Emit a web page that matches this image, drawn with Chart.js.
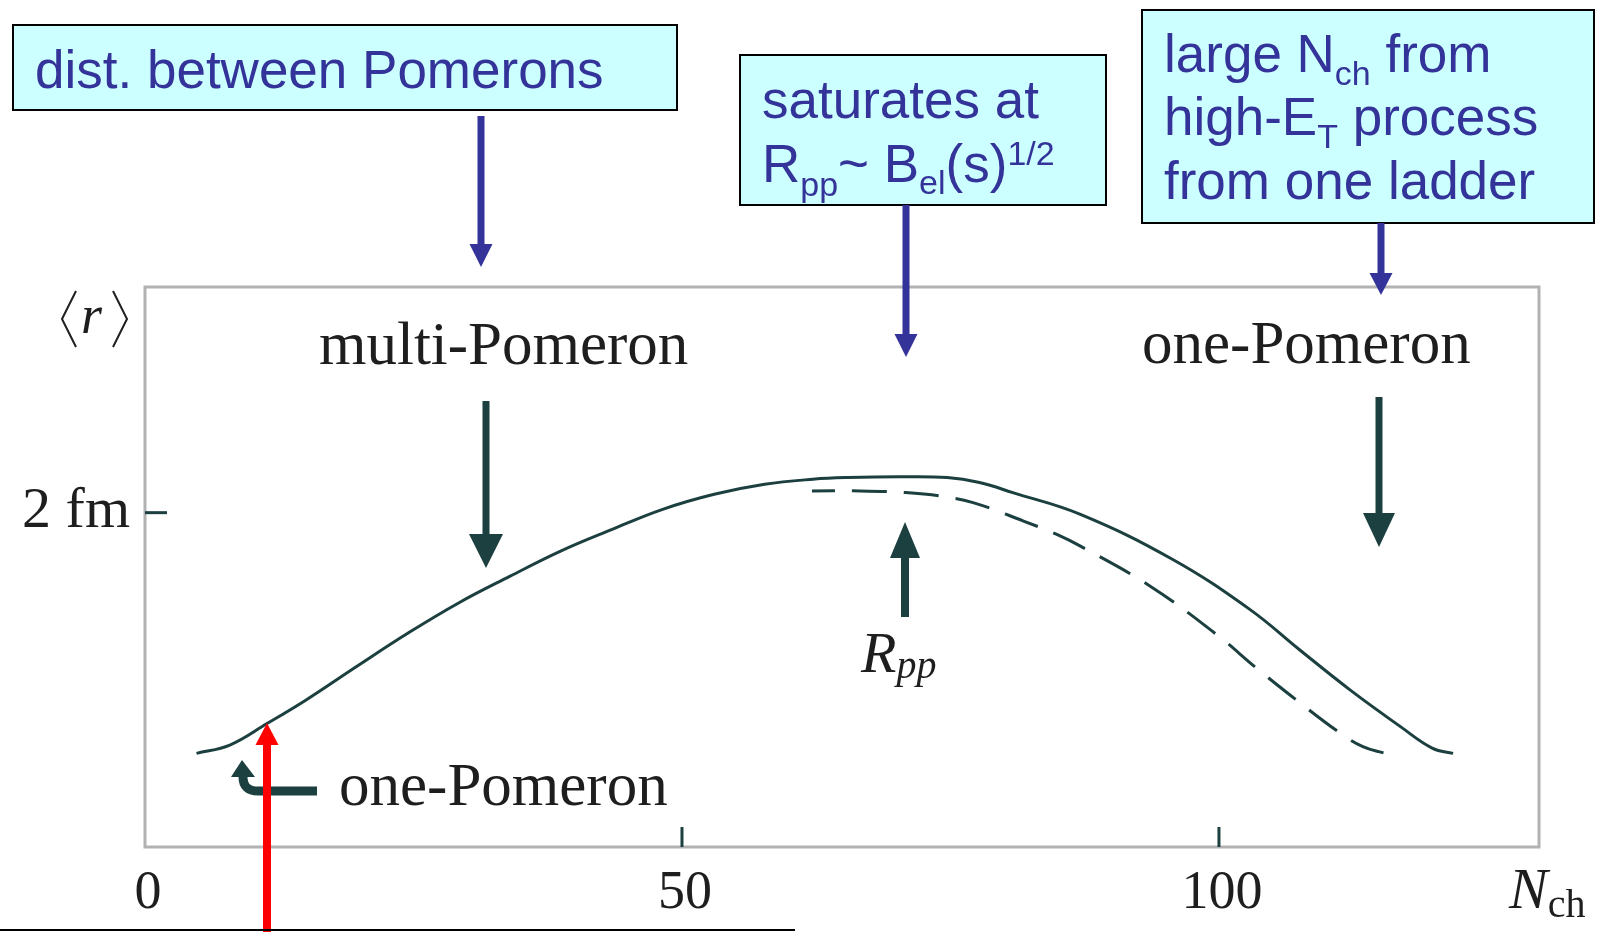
<!DOCTYPE html>
<html>
<head>
<meta charset="utf-8">
<title>&lt;r&gt; vs Nch</title>
<script src="https://cdn.jsdelivr.net/npm/chart.js@4.4.0/dist/chart.umd.min.js"></script>
<style>
	html, body { margin: 0; padding: 0; background: #ffffff; }
	#grafica { display: block; }
</style>
</head>
<body>
<canvas id="grafica" width="1603" height="932"></canvas>
<script>
// solid curve: <r> in fm against N_ch
var nchSolid = [4.8, 7.9, 11.4, 15.0, 19.7, 24.5, 29.2, 34.0, 38.7, 43.5, 48.2, 53.0, 57.7, 62.2, 65.4, 70.3, 74.7, 77.7, 80.8, 87.1, 95.7, 102.9, 107.5, 112.2, 116.9, 119.9, 121.8];
var rSolid   = [0.56, 0.61, 0.74, 0.88, 1.08, 1.28, 1.46, 1.62, 1.77, 1.90, 2.02, 2.11, 2.17, 2.20, 2.21, 2.215, 2.21, 2.18, 2.12, 1.99, 1.72, 1.42, 1.18, 0.94, 0.72, 0.59, 0.56];

// dashed curve (saturating at R_pp)
var nchDashed = [62.1, 66.6, 70.8, 74.0, 77.1, 81.8, 84.9, 87.1, 93.6, 99.8, 103.5, 107.2, 111.1, 113.4, 115.5];
var rDashed   = [2.13, 2.13, 2.12, 2.10, 2.06, 1.95, 1.87, 1.80, 1.56, 1.27, 1.07, 0.88, 0.69, 0.60, 0.56];

var xTicks = [0, 50, 100];
var xTickLabels = ["0", "50", "100"];
var yTicks = [2];
var yTickLabels = ["2 fm"];

var TEAL = "#1c3f3f";
var INK = "#1e1e1e";
var BLUE = "#333399";
var SANS = "'Liberation Sans', Arial, sans-serif";
var SERIF = "'Liberation Serif', 'Times New Roman', serif";

function toPoints(xs, ys)
{
	var pts = [];
	for (var i = 0; i < xs.length; i++)
		pts.push({ x: xs[i], y: ys[i] });
	return pts;
}

function drawRuns(ctx, x, y, runs)
{
	for (var i = 0; i < runs.length; i++) {
		ctx.font = runs[i].f;
		ctx.fillText(runs[i].t, x, y + (runs[i].dy || 0));
		x += ctx.measureText(runs[i].t).width;
	}
}

// vertical arrow, tip at yTip
function vArrow(ctx, x, yTail, yTip, headLen, headW, lw, color)
{
	var dir = yTip > yTail ? 1 : -1;
	ctx.strokeStyle = color;
	ctx.fillStyle = color;
	ctx.lineWidth = lw;
	ctx.beginPath();
	ctx.moveTo(x, yTail);
	ctx.lineTo(x, yTip - dir * headLen);
	ctx.stroke();
	ctx.beginPath();
	ctx.moveTo(x, yTip);
	ctx.lineTo(x - headW / 2, yTip - dir * headLen);
	ctx.lineTo(x + headW / 2, yTip - dir * headLen);
	ctx.closePath();
	ctx.fill();
}

function drawBox(ctx, x0, y0, x1, y1)
{
	ctx.fillStyle = "#ccffff";
	ctx.fillRect(x0, y0, x1 - x0, y1 - y0);
	ctx.strokeStyle = "#000000";
	ctx.lineWidth = 2;
	ctx.strokeRect(x0, y0, x1 - x0, y1 - y0);
}

var decoracion = {
	id: "decoracion",
	beforeDatasetsDraw: function (chart) {
		var ctx = chart.ctx, a = chart.chartArea;
		var sx = chart.scales.x, sy = chart.scales.y;
		ctx.save();

		// frame
		ctx.strokeStyle = "#b2b2b2";
		ctx.lineWidth = 3;
		ctx.strokeRect(a.left, a.top, a.right - a.left, a.bottom - a.top);

		// ticks and labels
		ctx.strokeStyle = TEAL;
		ctx.fillStyle = INK;
		ctx.lineWidth = 3;
		ctx.font = "54px " + SERIF;
		ctx.textAlign = "center";
		for (var i = 0; i < xTicks.length; i++) {
			var px = sx.getPixelForValue(xTicks[i]);
			if (xTicks[i] !== sx.min) {
				ctx.beginPath();
				ctx.moveTo(px, a.bottom - 20);
				ctx.lineTo(px, a.bottom);
				ctx.stroke();
			}
			ctx.fillText(xTickLabels[i], px + 3, 908);
		}
		ctx.textAlign = "right";
		ctx.font = "58px " + SERIF;
		for (var j = 0; j < yTicks.length; j++) {
			var py = sy.getPixelForValue(yTicks[j]);
			ctx.beginPath();
			ctx.moveTo(a.left, py);
			ctx.lineTo(a.left + 22, py);
			ctx.stroke();
			ctx.fillText(yTickLabels[j], 130, py + 14);
		}
		ctx.restore();
	},
	afterDraw: function (chart) {
		var ctx = chart.ctx;
		ctx.save();
		ctx.textAlign = "left";
		ctx.textBaseline = "alphabetic";

		// axis titles
		ctx.strokeStyle = INK;
		ctx.lineWidth = 2;
		ctx.beginPath();
		ctx.moveTo(76, 291); ctx.lineTo(62, 319); ctx.lineTo(76, 347);
		ctx.moveTo(113, 291); ctx.lineTo(127, 319); ctx.lineTo(113, 347);
		ctx.stroke();
		ctx.fillStyle = INK;
		ctx.font = "italic 54px " + SERIF;
		ctx.fillText("r", 81, 333);

		drawRuns(ctx, 1509, 908, [
			{ t: "N", f: "italic 58px " + SERIF },
			{ t: "ch", f: "40px " + SERIF, dy: 9 }
		]);

		// labels in the plot
		ctx.font = "61px " + SERIF;
		ctx.fillText("multi-Pomeron", 319, 364);
		ctx.fillText("one-Pomeron", 1142, 363);
		ctx.fillText("one-Pomeron", 339, 805);
		drawRuns(ctx, 861, 672, [
			{ t: "R", f: "italic 58px " + SERIF },
			{ t: "pp", f: "italic 40px " + SERIF, dy: 6 }
		]);

		// dark arrows
		vArrow(ctx, 486, 401, 568, 34, 34, 7, TEAL);
		vArrow(ctx, 1379, 397, 547, 34, 32, 7, TEAL);
		vArrow(ctx, 905, 617, 522, 36, 30, 8, TEAL);

		// small bent arrow next to the lower one-Pomeron
		ctx.strokeStyle = TEAL;
		ctx.fillStyle = TEAL;
		ctx.lineWidth = 9;
		ctx.beginPath();
		ctx.moveTo(317, 791);
		ctx.lineTo(258, 791);
		ctx.quadraticCurveTo(243, 791, 243, 777);
		ctx.stroke();
		ctx.beginPath();
		ctx.moveTo(242, 760);
		ctx.lineTo(231, 777);
		ctx.lineTo(255, 777);
		ctx.closePath();
		ctx.fill();

		// red arrow and bottom rule
		vArrow(ctx, 267, 932, 723, 22, 23, 8, "#ff0000");
		ctx.strokeStyle = "#000000";
		ctx.lineWidth = 2;
		ctx.beginPath();
		ctx.moveTo(0, 930);
		ctx.lineTo(795, 930);
		ctx.stroke();

		// text boxes
		drawBox(ctx, 13, 25, 677, 110);
		drawBox(ctx, 740, 55, 1106, 205);
		drawBox(ctx, 1142, 10, 1594, 223);

		var big = "53px " + SANS, small = "34px " + SANS;
		ctx.fillStyle = BLUE;
		drawRuns(ctx, 35, 88, [{ t: "dist. between Pomerons", f: big }]);

		drawRuns(ctx, 762, 118, [{ t: "saturates at", f: big }]);
		drawRuns(ctx, 762, 182, [
			{ t: "R", f: big },
			{ t: "pp", f: small, dy: 14 },
			{ t: "~ B", f: big },
			{ t: "el", f: small, dy: 12 },
			{ t: "(s)", f: big },
			{ t: "1/2", f: small, dy: -17 }
		]);

		drawRuns(ctx, 1164, 72, [
			{ t: "large N", f: big },
			{ t: "ch", f: small, dy: 13 },
			{ t: " from", f: big }
		]);
		drawRuns(ctx, 1164, 135, [
			{ t: "high-E", f: big },
			{ t: "T", f: small, dy: 13 },
			{ t: " process", f: big }
		]);
		drawRuns(ctx, 1164, 199, [{ t: "from one ladder", f: big }]);

		// blue arrows
		vArrow(ctx, 481, 116, 267, 23, 23, 7, BLUE);
		vArrow(ctx, 906, 205, 357, 23, 23, 7, BLUE);
		vArrow(ctx, 1381, 223, 295, 22, 23, 7, BLUE);

		ctx.restore();
	}
};

var grafica = new Chart(document.getElementById("grafica"), {
	type: "line",
	data: {
		datasets: [{
			label: "<r>",
			data: toPoints(nchSolid, rSolid),
			borderColor: TEAL,
			borderWidth: 3,
			pointRadius: 0,
			fill: false,
			tension: 0.4
		}, {
			label: "<r> saturated",
			data: toPoints(nchDashed, rDashed),
			borderColor: TEAL,
			borderWidth: 3,
			borderDash: [35, 17],
			borderDashOffset: 12,
			pointRadius: 0,
			fill: false,
			tension: 0.4
		}]
	},
	options: {
		responsive: false,
		animation: false,
		layout: { padding: { left: 145, top: 287, right: 64, bottom: 85 } },
		plugins: {
			legend: { display: false },
			tooltip: { enabled: false }
		},
		scales: {
			x: { type: "linear", min: 0, max: 129.8, display: false },
			y: { type: "linear", min: 0, max: 3.35, display: false }
		}
	},
	plugins: [decoracion]
});
</script>
</body>
</html>
